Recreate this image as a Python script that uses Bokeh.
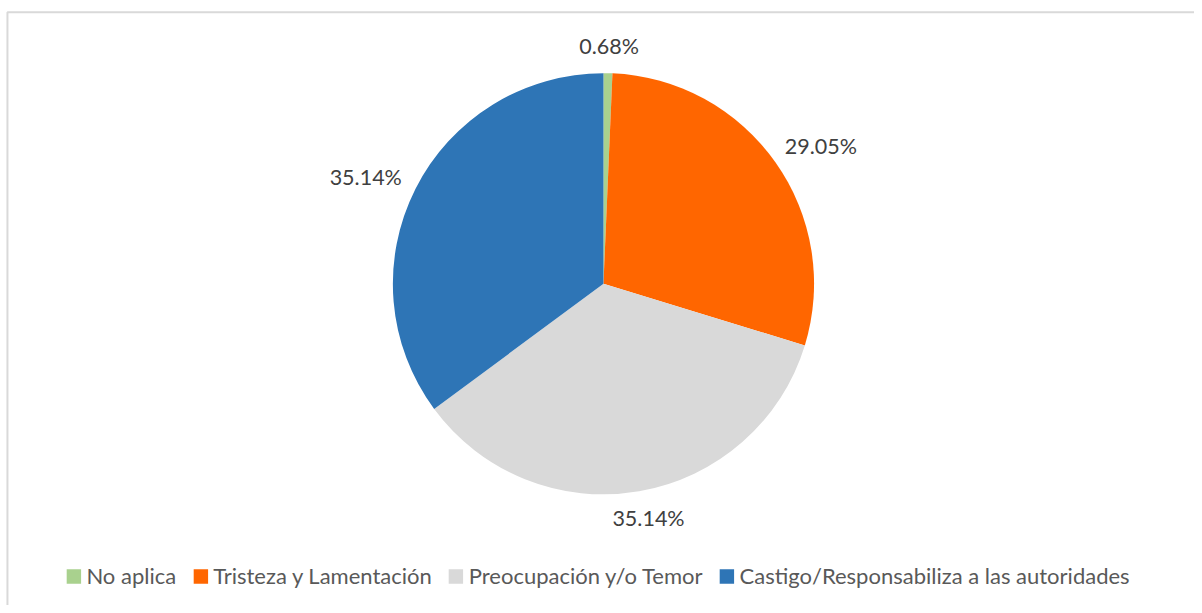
import numpy as np
from bokeh.plotting import figure
from bokeh.models import ColumnDataSource, Range1d
from bokeh.core.properties import value
from bokeh.embed import file_html
from bokeh.resources import INLINE

categories = ["No aplica", "Tristeza y Lamentación", "Preocupación y/o Temor",
              "Castigo/Responsabiliza a las autoridades"]
percentages = [0.68, 29.05, 35.14, 35.14]
labels = ["0.68%", "29.05%", "35.14%", "35.14%"]
colors = ["#A9D18E", "#FF6600", "#D9D9D9", "#2E75B6"]

FONT = "Lato"
W, H = 1194, 605          # figure size in pixels
RW, RH = 1202, 613        # layout coordinate space
p = figure(width=W, height=H, output_backend="svg", toolbar_location=None,
           x_range=Range1d(0, RW), y_range=Range1d(0, RH),
           x_axis_location=None, y_axis_location=None, min_border=0,
           outline_line_color=None)
p.grid.visible = False

# chart-area border (left and top edges visible in the reference)
p.line(x=[7, 7, RW], y=[0, RH - 12, RH - 12], line_color="#D9D9D9", line_width=2)

cx, cy, r = 607, RH - 287, 212
frac = np.array(percentages) / sum(percentages)
cum = np.concatenate([[0.0], np.cumsum(frac)])
start = np.pi / 2 - cum[:-1] * 2 * np.pi
end = np.pi / 2 - cum[1:] * 2 * np.pi

src = ColumnDataSource(dict(cat=categories, start=start, end=end, color=colors))
p.wedge(x=cx, y=cy, radius=r, start_angle="start", end_angle="end",
        direction="clock", fill_color="color", line_color=None, source=src,
        legend_field="cat")

# outside-end data labels
mid = (start + end) / 2
ux, uy = np.cos(mid), np.sin(mid)
gap = 20
tw = np.array([len(s) * 12.0 for s in labels])
th = 18.0
lx = cx + (r + gap) * ux + ux * tw / 2
ly = cy + (r + gap) * uy + uy * th / 2
lsrc = ColumnDataSource(dict(x=lx, y=ly, t=labels))
p.text(x="x", y="y", text="t", source=lsrc, text_align="center",
       text_baseline="middle", text_font=value(FONT), text_font_size="21.5px",
       text_color="#404040")

lg = p.legend[0]
lg.orientation = "horizontal"
lg.location = "bottom_center"
lg.margin = 16
lg.padding = 0
lg.spacing = 15
lg.label_standoff = 4
lg.glyph_width = 18
lg.glyph_height = 18
lg.label_text_font = FONT
lg.label_text_font_size = "22px"
lg.label_text_color = "#595959"
lg.border_line_color = None
lg.background_fill_alpha = 0

open("out.html", "w").write(file_html(p, INLINE))
